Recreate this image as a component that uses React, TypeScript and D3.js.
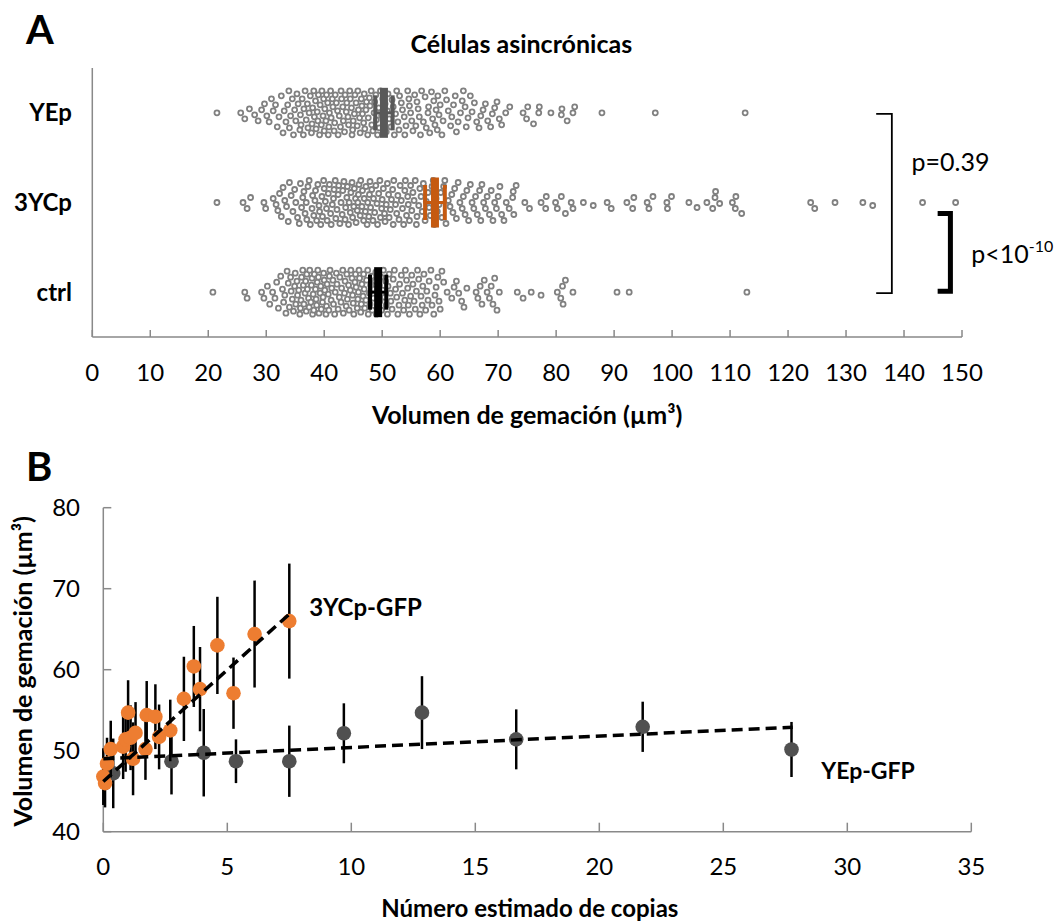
import React, { useEffect, useRef } from 'react';
import * as d3 from 'd3';

// ---- Panel A: bud volume per cell (µm³), one array per strain ----
const categories = ['ctrl', '3YCp', 'YEp'];

const yepVolumes = [
  21.5, 25.6, 26.3, 27.1, 28.0, 28.6, 29.2, 29.7, 30.1, 30.5, 30.9, 31.2, 31.6, 31.9, 32.2, 32.6, 32.9,
  33.1, 33.4, 33.7, 33.9, 34.0, 34.2, 34.5, 34.7, 34.9, 35.1, 35.3, 35.5, 35.8, 35.9,
  36.0, 36.2, 36.4, 36.5, 36.7, 36.9, 37.1, 37.2, 37.4, 37.6, 37.8, 37.9,
  38.0, 38.2, 38.3, 38.5, 38.6, 38.8, 38.9, 39.0, 39.2, 39.3, 39.5, 39.6, 39.8, 39.9,
  40.0, 40.1, 40.3, 40.4, 40.6, 40.7, 40.8, 40.9, 41.1, 41.2, 41.4, 41.5, 41.7, 41.8, 41.9,
  42.1, 42.3, 42.4, 42.6, 42.8, 42.9, 43.0, 43.2, 43.3, 43.5, 43.6, 43.8, 43.9,
  44.1, 44.2, 44.4, 44.5, 44.7, 44.8, 44.9, 45.0, 45.2, 45.3, 45.5, 45.7, 45.8, 45.9,
  46.1, 46.2, 46.4, 46.5, 46.6, 46.8, 46.9, 47.0, 47.2, 47.3, 47.5, 47.6, 47.8, 47.9,
  48.1, 48.2, 48.4, 48.6, 48.7, 48.9, 49.0, 49.2, 49.4, 49.5, 49.7, 49.9,
  50.1, 50.3, 50.5, 50.7, 50.9, 51.0, 51.2, 51.5, 51.7, 51.9, 52.1, 52.3, 52.5, 52.7, 52.9,
  53.0, 53.3, 53.5, 53.8, 53.9, 54.1, 54.4, 54.6, 54.7, 54.9, 55.1, 55.3, 55.6, 55.8,
  56.0, 56.2, 56.4, 56.6, 56.8, 57.1, 57.4, 57.6, 57.9, 58.0, 58.2, 58.5, 58.7, 58.9,
  59.1, 59.3, 59.5, 59.6, 59.8, 60.0, 60.3, 60.5, 60.8, 61.1, 61.4, 61.8,
  62.0, 62.3, 62.6, 62.8, 63.1, 63.5, 63.8, 64.0, 64.3, 64.5, 64.8, 65.2, 65.5, 65.9,
  66.3, 66.7, 67.0, 67.4, 67.8, 68.2, 68.7, 69.0, 69.4, 69.8, 70.2, 70.6, 71.3,
  72.0, 74.3, 74.9, 75.1, 76.1, 77.0, 77.1, 79.1, 80.9, 81.0, 81.9, 82.9, 83.2, 87.9, 97.1, 112.6,
];

const ycpVolumes = [
  21.5, 26.0, 26.7, 27.3, 29.6, 29.9, 31.2, 31.7, 32.0, 32.3, 32.6, 32.9, 33.2, 33.5, 33.8,
  34.0, 34.3, 34.6, 34.9, 35.1, 35.4, 35.7, 35.9, 36.1, 36.3, 36.5, 36.7, 36.9,
  37.0, 37.2, 37.4, 37.6, 37.9, 38.0, 38.2, 38.4, 38.5, 38.7, 38.9, 39.1, 39.2, 39.4, 39.6, 39.7, 39.9,
  40.0, 40.2, 40.4, 40.5, 40.7, 40.9, 41.1, 41.2, 41.4, 41.6, 41.7, 41.9,
  42.0, 42.2, 42.4, 42.5, 42.7, 42.9, 43.1, 43.2, 43.4, 43.6, 43.7, 43.9,
  44.0, 44.2, 44.3, 44.5, 44.6, 44.8, 44.9, 45.1, 45.2, 45.4, 45.5, 45.7, 45.8, 45.9,
  46.0, 46.2, 46.3, 46.5, 46.6, 46.8, 46.9, 47.1, 47.2, 47.4, 47.5, 47.7, 47.8, 47.9,
  48.0, 48.2, 48.4, 48.5, 48.7, 48.9, 49.1, 49.2, 49.4, 49.6, 49.7, 49.9,
  50.0, 50.2, 50.4, 50.5, 50.7, 50.9, 51.1, 51.2, 51.4, 51.6, 51.8, 51.9,
  52.0, 52.3, 52.5, 52.7, 52.9, 53.1, 53.3, 53.5, 53.7, 53.9, 54.0, 54.2, 54.4, 54.5, 54.7, 54.9,
  55.1, 55.3, 55.5, 55.7, 55.9, 56.0, 56.3, 56.5, 56.7, 56.9, 57.1, 57.4, 57.6, 57.9,
  58.1, 58.3, 58.6, 58.8, 59.0, 59.3, 59.5, 59.8, 60.1, 60.3, 60.6, 60.8, 61.0, 61.4, 61.7,
  62.0, 62.2, 62.5, 62.8, 63.1, 63.4, 63.8, 64.0, 64.3, 64.6, 64.9, 65.2, 65.5, 65.8,
  66.1, 66.4, 66.8, 67.0, 67.2, 67.5, 67.8, 68.1, 68.5, 68.8, 69.1, 69.4, 69.7, 70.0, 70.3, 70.6, 71.0, 71.4,
  71.9, 72.5, 72.6, 72.7, 73.1, 74.6, 75.4, 77.4, 78.2, 78.3, 79.9, 80.2, 80.9, 81.6, 82.6, 82.9,
  84.7, 86.4, 88.8, 89.5, 92.2, 93.2, 93.4, 95.7, 96.0, 96.7, 99.1, 99.2, 99.9, 102.9, 104.3,
  106.0, 107.0, 107.4, 107.5, 108.2, 110.4, 110.9, 111.0, 112.0, 123.9, 124.6, 128.1, 132.9, 134.6, 143.2, 148.9,
];

const ctrlVolumes = [
  20.8, 26.3, 26.7, 29.2, 29.6, 30.2, 30.6, 31.1, 31.5, 31.8, 32.1, 32.5, 32.8,
  33.0, 33.2, 33.4, 33.6, 33.8, 34.0, 34.2, 34.3, 34.5, 34.7, 34.9, 35.0, 35.1, 35.3, 35.4, 35.6, 35.8, 35.9,
  36.0, 36.1, 36.3, 36.4, 36.5, 36.7, 36.8, 36.9, 37.0, 37.1, 37.3, 37.4, 37.5, 37.7, 37.8, 37.9,
  38.0, 38.1, 38.2, 38.3, 38.5, 38.6, 38.7, 38.8, 38.9, 39.0, 39.1, 39.3, 39.4, 39.5, 39.7, 39.8, 39.9,
  40.0, 40.1, 40.3, 40.4, 40.5, 40.7, 40.8, 40.9, 41.0, 41.2, 41.3, 41.5, 41.6, 41.8, 41.9,
  42.1, 42.2, 42.4, 42.6, 42.7, 42.9, 43.0, 43.2, 43.3, 43.5, 43.6, 43.8, 43.9,
  44.0, 44.2, 44.3, 44.5, 44.6, 44.8, 44.9, 45.0, 45.1, 45.3, 45.4, 45.5, 45.7, 45.8, 45.9,
  46.0, 46.1, 46.3, 46.4, 46.5, 46.7, 46.8, 46.9, 47.0, 47.2, 47.3, 47.5, 47.6, 47.8, 47.9,
  48.0, 48.2, 48.3, 48.5, 48.6, 48.8, 48.9, 49.0, 49.2, 49.3, 49.5, 49.6, 49.8, 49.9,
  50.1, 50.2, 50.4, 50.6, 50.7, 50.9, 51.0, 51.2, 51.4, 51.5, 51.7, 51.9,
  52.1, 52.3, 52.5, 52.7, 52.9, 53.0, 53.3, 53.5, 53.7, 53.9, 54.0, 54.2, 54.4, 54.5, 54.7, 54.9,
  55.1, 55.3, 55.5, 55.7, 55.9, 56.1, 56.3, 56.5, 56.7, 56.9, 57.0, 57.2, 57.5, 57.7, 57.9,
  58.1, 58.4, 58.6, 58.9, 59.1, 59.3, 59.6, 59.8, 60.0, 60.3, 60.6, 61.2,
  62.0, 62.4, 62.8, 63.2, 63.7, 64.1, 64.6, 66.2, 66.5, 66.9, 67.2, 67.6,
  68.1, 68.5, 68.8, 69.1, 69.4, 69.8, 70.2,
  73.3, 74.3, 75.7, 77.4, 80.2, 80.8, 81.1, 81.2, 81.6, 82.9, 90.5, 92.6, 112.9,
];

const groupVolumes = [ctrlVolumes, ycpVolumes, yepVolumes];
const groupMeans = [49.3, 59.1, 50.3];
const groupErrors = [1.4, 1.7, 1.5];
const meanColors = ['#000000', '#C55A11', '#595959'];
const xTicksA = [0, 10, 20, 30, 40, 50, 60, 70, 80, 90, 100, 110, 120, 130, 140, 150];

// ---- Panel B: bud volume vs estimated copy number ----
const ycpCopies = [0.0, 0.07, 0.15, 0.3, 0.8, 0.9, 1.0, 1.1, 1.2, 1.3, 1.7, 1.75, 2.1, 2.25, 2.7, 3.25, 3.65, 3.9, 4.6, 5.25, 6.1, 7.5];
const ycpBud = [46.8, 46.0, 48.4, 50.2, 50.5, 51.4, 54.7, 51.6, 49.0, 52.2, 50.2, 54.4, 54.2, 51.7, 52.5, 56.4, 60.4, 57.6, 63.0, 57.1, 64.4, 66.0];
const ycpErr = [3.5, 3.0, 3.2, 3.5, 4.0, 4.0, 4.0, 4.0, 4.5, 3.8, 3.8, 4.2, 4.0, 4.0, 3.8, 5.2, 5.0, 5.2, 6.0, 4.4, 6.6, 7.1];

const yepCopies = [0.4, 2.75, 4.05, 5.35, 7.5, 9.7, 12.85, 16.65, 21.75, 27.75];
const yepBud = [47.2, 48.7, 49.75, 48.7, 48.7, 52.15, 54.7, 51.4, 52.95, 50.15];
const yepErr = [4.3, 4.1, 5.4, 2.7, 4.4, 3.7, 4.5, 3.7, 3.1, 3.4];

const ycpTrend = [[0, 46.2], [7.55, 67.0]];
const yepTrend = [[0, 49.0], [27.8, 52.9]];

const xTicksB = [0, 5, 10, 15, 20, 25, 30, 35];
const yTicksB = [40, 50, 60, 70, 80];

const FONT = 'Lato, sans-serif';
const AXIS = '#898989';

// beeswarm with a wider reach along x, so neighbours stack into columns
function swarm(values, x, minD, maxOff, sx) {
  const sorted = [...values].sort((a, b) => a - b);
  const cands = [0];
  for (let k = 1; k <= maxOff; k++) cands.push(k, -k);
  const placed = [];
  sorted.forEach(v => {
    const px = x(v);
    const near = placed.filter(p => (px - p.x) * sx < minD);
    let best = 0;
    let bestScore = -1;
    for (const c of cands) {
      let m = Infinity;
      for (const p of near) {
        const d = Math.hypot((px - p.x) * sx, c - p.dy);
        if (d < m) m = d;
      }
      if (m >= minD) { best = c; bestScore = m; break; }
      if (m > bestScore) { bestScore = m; best = c; }
    }
    placed.push({ x: px, dy: best });
  });
  return placed;
}

export default function App() {
  const svgRef = useRef(null);

  useEffect(() => {
    const svg = d3.select(svgRef.current);
    svg.selectAll('*').remove();

    // ================= Panel A =================
    const xA = d3.scaleLinear().domain([0, 150]).range([92.3, 962]);
    const yA = d3.scaleLinear().domain([0.5, 3.5]).range([337, 68]);

    svg.append('text').attr('x', 26).attr('y', 44)
      .attr('font-family', FONT).attr('font-weight', 'bold').attr('font-size', 40).text('A');

    svg.append('text').attr('x', xA(74)).attr('y', 53).attr('text-anchor', 'middle')
      .attr('font-family', FONT).attr('font-weight', 'bold').attr('font-size', 25)
      .text('Células asincrónicas');

    // axes
    svg.append('line').attr('x1', xA(0)).attr('x2', xA(0)).attr('y1', yA(3.5)).attr('y2', yA(0.5))
      .attr('stroke', AXIS).attr('stroke-width', 1.5);
    svg.append('line').attr('x1', xA(0)).attr('x2', xA(150)).attr('y1', yA(0.5)).attr('y2', yA(0.5))
      .attr('stroke', AXIS).attr('stroke-width', 1.5);
    xTicksA.forEach(t => {
      svg.append('line').attr('x1', xA(t)).attr('x2', xA(t)).attr('y1', yA(0.5)).attr('y2', yA(0.5) - 7)
        .attr('stroke', AXIS).attr('stroke-width', 1.5);
      svg.append('text').attr('x', xA(t)).attr('y', yA(0.5) + 44).attr('text-anchor', 'middle')
        .attr('font-family', FONT).attr('font-size', 24).attr('fill', '#000').text(t);
    });
    svg.append('text').attr('x', xA(75)).attr('y', 424).attr('text-anchor', 'middle')
      .attr('font-family', FONT).attr('font-weight', 'bold').attr('font-size', 25)
      .text('Volumen de gemación  (µm³)');

    categories.forEach((c, i) => {
      svg.append('text').attr('x', 72).attr('y', yA(i + 1)).attr('dy', '0.35em').attr('text-anchor', 'end')
        .attr('font-family', FONT).attr('font-weight', 'bold').attr('font-size', 24).text(c);
    });

    // dots
    groupVolumes.forEach((vals, i) => {
      const cy = yA(i + 1);
      const pts = swarm(vals, xA, 6, 22, 0.55);
      svg.append('g').selectAll('circle').data(pts).enter().append('circle')
        .attr('cx', d => d.x).attr('cy', d => cy + d.dy).attr('r', 2.5)
        .attr('fill', '#fff').attr('stroke', '#808080').attr('stroke-width', 1.8);
    });

    // mean and error marker
    groupMeans.forEach((m, i) => {
      const cy = yA(i + 1);
      const col = meanColors[i];
      const e = groupErrors[i];
      const g = svg.append('g');
      g.append('line').attr('x1', xA(m - e)).attr('x2', xA(m + e)).attr('y1', cy).attr('y2', cy)
        .attr('stroke', col).attr('stroke-width', 3);
      [m - e, m + e].forEach(v => {
        g.append('rect').attr('x', xA(v) - 2).attr('y', cy - 17.5).attr('width', 4).attr('height', 35).attr('fill', col);
      });
      g.append('rect').attr('x', xA(m) - 4).attr('y', cy - 25).attr('width', 8).attr('height', 50).attr('fill', col);
    });

    // significance brackets
    const thin = d3.path();
    thin.moveTo(xA(135.2), yA(3) + 1);
    thin.lineTo(xA(137.9), yA(3) + 1);
    thin.lineTo(xA(137.9), yA(1) + 1);
    thin.lineTo(xA(135.2), yA(1) + 1);
    svg.append('path').attr('d', thin.toString()).attr('fill', 'none').attr('stroke', '#000').attr('stroke-width', 1.8);
    svg.append('text').attr('x', xA(141.3)).attr('y', 171).attr('font-family', FONT).attr('font-size', 25).text('p=0.39');

    const thick = d3.path();
    thick.moveTo(xA(145.8), yA(2) + 11);
    thick.lineTo(xA(148.0), yA(2) + 11);
    thick.lineTo(xA(148.0), yA(1) - 1);
    thick.lineTo(xA(145.8), yA(1) - 1);
    svg.append('path').attr('d', thick.toString()).attr('fill', 'none').attr('stroke', '#000').attr('stroke-width', 5);
    const pt = svg.append('text').attr('x', xA(151.6)).attr('y', 263).attr('font-family', FONT).attr('font-size', 25);
    pt.append('tspan').text('p<10');
    pt.append('tspan').attr('dy', -11).attr('font-size', 16).text('-10');

    // ================= Panel B =================
    const xB = d3.scaleLinear().domain([0, 35]).range([103.3, 971.3]);
    const yB = d3.scaleLinear().domain([40, 80]).range([831.7, 507.7]);

    svg.append('text').attr('x', 26).attr('y', 481)
      .attr('font-family', FONT).attr('font-weight', 'bold').attr('font-size', 40).text('B');

    svg.append('line').attr('x1', xB(0)).attr('x2', xB(0)).attr('y1', yB(80)).attr('y2', yB(40))
      .attr('stroke', AXIS).attr('stroke-width', 1.5);
    svg.append('line').attr('x1', xB(0)).attr('x2', xB(35)).attr('y1', yB(40)).attr('y2', yB(40))
      .attr('stroke', AXIS).attr('stroke-width', 1.5);
    yTicksB.forEach(t => {
      svg.append('line').attr('x1', xB(0)).attr('x2', xB(0) + 8).attr('y1', yB(t)).attr('y2', yB(t))
        .attr('stroke', AXIS).attr('stroke-width', 1.5);
      svg.append('text').attr('x', 80).attr('y', yB(t)).attr('dy', '0.35em').attr('text-anchor', 'end')
        .attr('font-family', FONT).attr('font-size', 24).text(t);
    });
    xTicksB.forEach(t => {
      svg.append('line').attr('x1', xB(t)).attr('x2', xB(t)).attr('y1', yB(40)).attr('y2', yB(40) - 9)
        .attr('stroke', AXIS).attr('stroke-width', 1.5);
      svg.append('text').attr('x', xB(t)).attr('y', yB(40) + 43).attr('text-anchor', 'middle')
        .attr('font-family', FONT).attr('font-size', 24).text(t);
    });

    svg.append('text').attr('x', xB(17.2)).attr('y', 917).attr('text-anchor', 'middle')
      .attr('font-family', FONT).attr('font-weight', 'bold').attr('font-size', 24)
      .text('Número estimado de copias');
    svg.append('text').attr('transform', `translate(32,${yB(59.8)}) rotate(-90)`).attr('text-anchor', 'middle')
      .attr('font-family', FONT).attr('font-weight', 'bold').attr('font-size', 25)
      .text('Volumen de gemación  (µm³)');

    const drawSeries = (xs, ys, es, color) => {
      const g = svg.append('g');
      xs.forEach((xv, i) => {
        g.append('line').attr('x1', xB(xv)).attr('x2', xB(xv))
          .attr('y1', yB(ys[i] - es[i])).attr('y2', yB(ys[i] + es[i]))
          .attr('stroke', '#000').attr('stroke-width', 2.5);
      });
      xs.forEach((xv, i) => {
        g.append('circle').attr('cx', xB(xv)).attr('cy', yB(ys[i])).attr('r', 7.3).attr('fill', color);
      });
    };
    drawSeries(yepCopies, yepBud, yepErr, '#505050');
    drawSeries(ycpCopies, ycpBud, ycpErr, '#ED7D31');

    const line = d3.line().x(d => xB(d[0])).y(d => yB(d[1]));
    [ycpTrend, yepTrend].forEach(tr => {
      svg.append('path').attr('d', line(tr)).attr('fill', 'none').attr('stroke', '#000')
        .attr('stroke-width', 3.5).attr('stroke-dasharray', '11,6');
    });

    svg.append('text').attr('x', xB(8.3)).attr('y', 616).attr('font-family', FONT).attr('font-weight', 'bold')
      .attr('font-size', 24).text('3YCp-GFP');
    svg.append('text').attr('x', xB(28.95)).attr('y', 779).attr('font-family', FONT).attr('font-weight', 'bold')
      .attr('font-size', 23).text('YEp-GFP');
  }, []);

  return (
    <svg ref={svgRef} width={1059} height={924}
      style={{ position: 'absolute', left: 0, top: 0, background: '#fff' }} />
  );
}
